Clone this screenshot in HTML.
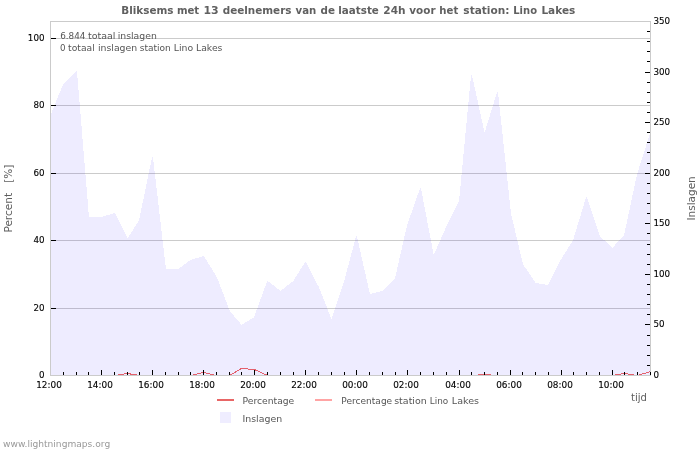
<!DOCTYPE html>
<html lang="nl"><head><meta charset="utf-8"><title>Bliksems - Lino Lakes</title>
<style>
html,body{margin:0;padding:0;background:#fff;}
body{width:700px;height:450px;overflow:hidden;}
svg{display:block;font-family:"DejaVu Sans","Liberation Sans",sans-serif;}
.g{stroke:#cbcbcb;stroke-width:1;shape-rendering:crispEdges;}
.ax{stroke:#000;stroke-width:1;shape-rendering:crispEdges;}
.bd{stroke:#cbcbcb;stroke-width:1;fill:none;shape-rendering:crispEdges;}
.tl{font-size:9.1px;fill:#000;stroke:#000;stroke-width:0.12px;}
.lg{font-size:9.4px;fill:#555;}
.at{font-size:11px;fill:#5e5e5e;}
.tt{font-size:11.3px;font-weight:bold;fill:#606060;}
</style></head><body>
<svg width="700" height="450" viewBox="0 0 700 450">
<rect width="700" height="450" fill="#fff"/>
<line class="g" x1="50" x2="650" y1="308.5" y2="308.5"/>
<line class="g" x1="50" x2="650" y1="240.5" y2="240.5"/>
<line class="g" x1="50" x2="650" y1="173.5" y2="173.5"/>
<line class="g" x1="50" x2="650" y1="105.5" y2="105.5"/>
<line class="g" x1="50" x2="650" y1="38.5" y2="38.5"/>
<g opacity="0.0706"><polygon points="50.5,375.5 50.5,116.5 63.5,84.5 76.5,71.5 88.5,217.5 101.5,217.5 114.5,213.5 127.5,239.5 139.5,220.5 152.5,157.5 165.5,269.5 178.5,269.5 190.5,260.5 203.5,256.5 216.5,277.5 229.5,311.5 241.5,325.5 254.5,317.5 267.5,281.5 280.5,291.5 293.5,281.5 305.5,262.5 318.5,287.5 331.5,320.5 344.5,281.5 356.5,236.5 369.5,294.5 382.5,291.5 395.5,278.5 407.5,225.5 420.5,188.5 433.5,256.5 446.5,227.5 459.5,201.5 471.5,75.5 484.5,134.5 497.5,92.5 510.5,213.5 522.5,264.5 535.5,283.5 548.5,285.5 561.5,259.5 573.5,240.5 586.5,197.5 599.5,236.5 612.5,248.5 624.5,235.5 637.5,174.5 650.5,133.5 650.5,375.5" fill="#2000ff" stroke="#2000ff" stroke-width="1" stroke-linejoin="round" shape-rendering="crispEdges"/></g>
<polyline points="50.5,375.5 63.5,375.5 76.5,375.5 88.5,375.5 101.5,375.5 114.5,375.5 127.5,373.5 139.5,375.5 152.5,375.5 165.5,375.5 178.5,375.5 190.5,375.5 203.5,372.5 216.5,375.5 229.5,375.5 241.5,368.5 254.5,369.5 267.5,375.5 280.5,375.5 293.5,375.5 305.5,375.5 318.5,375.5 331.5,375.5 344.5,375.5 356.5,375.5 369.5,375.5 382.5,375.5 395.5,375.5 407.5,375.5 420.5,375.5 433.5,375.5 446.5,375.5 459.5,375.5 471.5,375.5 484.5,374.5 497.5,375.5 510.5,375.5 522.5,375.5 535.5,375.5 548.5,375.5 561.5,375.5 573.5,375.5 586.5,375.5 599.5,375.5 612.5,375.5 624.5,373.5 637.5,375.5 650.5,371.5" fill="none" stroke="#e4606c" stroke-width="1" shape-rendering="crispEdges"/>
<rect class="bd" x="50.5" y="21.5" width="600" height="354"/>
<text class="tl" x="44.5" y="378" text-anchor="end" textLength="5.55" lengthAdjust="spacingAndGlyphs">0</text>
<line class="ax" x1="51" x2="56" y1="308.5" y2="308.5"/>
<text class="tl" x="44.5" y="311" text-anchor="end" textLength="11.10" lengthAdjust="spacingAndGlyphs">20</text>
<line class="ax" x1="51" x2="56" y1="240.5" y2="240.5"/>
<text class="tl" x="44.5" y="243" text-anchor="end" textLength="11.10" lengthAdjust="spacingAndGlyphs">40</text>
<line class="ax" x1="51" x2="56" y1="173.5" y2="173.5"/>
<text class="tl" x="44.5" y="176" text-anchor="end" textLength="11.10" lengthAdjust="spacingAndGlyphs">60</text>
<line class="ax" x1="51" x2="56" y1="105.5" y2="105.5"/>
<text class="tl" x="44.5" y="108" text-anchor="end" textLength="11.10" lengthAdjust="spacingAndGlyphs">80</text>
<line class="ax" x1="51" x2="56" y1="38.5" y2="38.5"/>
<text class="tl" x="44.5" y="41" text-anchor="end" textLength="16.65" lengthAdjust="spacingAndGlyphs">100</text>
<text class="tl" x="653.4" y="378" textLength="5.55" lengthAdjust="spacingAndGlyphs">0</text>
<line class="ax" x1="647" x2="650" y1="365.5" y2="365.5"/>
<line class="ax" x1="647" x2="650" y1="355.5" y2="355.5"/>
<line class="ax" x1="647" x2="650" y1="345.5" y2="345.5"/>
<line class="ax" x1="647" x2="650" y1="335.5" y2="335.5"/>
<line class="ax" x1="645" x2="650" y1="324.5" y2="324.5"/>
<text class="tl" x="653.4" y="327" textLength="11.10" lengthAdjust="spacingAndGlyphs">50</text>
<line class="ax" x1="647" x2="650" y1="314.5" y2="314.5"/>
<line class="ax" x1="647" x2="650" y1="304.5" y2="304.5"/>
<line class="ax" x1="647" x2="650" y1="294.5" y2="294.5"/>
<line class="ax" x1="647" x2="650" y1="284.5" y2="284.5"/>
<line class="ax" x1="645" x2="650" y1="274.5" y2="274.5"/>
<text class="tl" x="653.4" y="277" textLength="16.65" lengthAdjust="spacingAndGlyphs">100</text>
<line class="ax" x1="647" x2="650" y1="264.5" y2="264.5"/>
<line class="ax" x1="647" x2="650" y1="254.5" y2="254.5"/>
<line class="ax" x1="647" x2="650" y1="244.5" y2="244.5"/>
<line class="ax" x1="647" x2="650" y1="233.5" y2="233.5"/>
<line class="ax" x1="645" x2="650" y1="223.5" y2="223.5"/>
<text class="tl" x="653.4" y="226" textLength="16.65" lengthAdjust="spacingAndGlyphs">150</text>
<line class="ax" x1="647" x2="650" y1="213.5" y2="213.5"/>
<line class="ax" x1="647" x2="650" y1="203.5" y2="203.5"/>
<line class="ax" x1="647" x2="650" y1="193.5" y2="193.5"/>
<line class="ax" x1="647" x2="650" y1="183.5" y2="183.5"/>
<line class="ax" x1="645" x2="650" y1="173.5" y2="173.5"/>
<text class="tl" x="653.4" y="176" textLength="16.65" lengthAdjust="spacingAndGlyphs">200</text>
<line class="ax" x1="647" x2="650" y1="163.5" y2="163.5"/>
<line class="ax" x1="647" x2="650" y1="152.5" y2="152.5"/>
<line class="ax" x1="647" x2="650" y1="142.5" y2="142.5"/>
<line class="ax" x1="647" x2="650" y1="132.5" y2="132.5"/>
<line class="ax" x1="645" x2="650" y1="122.5" y2="122.5"/>
<text class="tl" x="653.4" y="125" textLength="16.65" lengthAdjust="spacingAndGlyphs">250</text>
<line class="ax" x1="647" x2="650" y1="112.5" y2="112.5"/>
<line class="ax" x1="647" x2="650" y1="102.5" y2="102.5"/>
<line class="ax" x1="647" x2="650" y1="92.5" y2="92.5"/>
<line class="ax" x1="647" x2="650" y1="82.5" y2="82.5"/>
<line class="ax" x1="645" x2="650" y1="72.5" y2="72.5"/>
<text class="tl" x="653.4" y="75" textLength="16.65" lengthAdjust="spacingAndGlyphs">300</text>
<line class="ax" x1="647" x2="650" y1="61.5" y2="61.5"/>
<line class="ax" x1="647" x2="650" y1="51.5" y2="51.5"/>
<line class="ax" x1="647" x2="650" y1="41.5" y2="41.5"/>
<line class="ax" x1="647" x2="650" y1="31.5" y2="31.5"/>
<text class="tl" x="653.4" y="24" textLength="16.65" lengthAdjust="spacingAndGlyphs">350</text>
<line class="ax" x1="63.5" x2="63.5" y1="372" y2="375"/>
<line class="ax" x1="76.5" x2="76.5" y1="372" y2="375"/>
<line class="ax" x1="88.5" x2="88.5" y1="372" y2="375"/>
<line class="ax" x1="101.5" x2="101.5" y1="370" y2="375"/>
<line class="ax" x1="114.5" x2="114.5" y1="372" y2="375"/>
<line class="ax" x1="127.5" x2="127.5" y1="372" y2="375"/>
<line class="ax" x1="139.5" x2="139.5" y1="372" y2="375"/>
<line class="ax" x1="152.5" x2="152.5" y1="370" y2="375"/>
<line class="ax" x1="165.5" x2="165.5" y1="372" y2="375"/>
<line class="ax" x1="178.5" x2="178.5" y1="372" y2="375"/>
<line class="ax" x1="190.5" x2="190.5" y1="372" y2="375"/>
<line class="ax" x1="203.5" x2="203.5" y1="370" y2="375"/>
<line class="ax" x1="216.5" x2="216.5" y1="372" y2="375"/>
<line class="ax" x1="229.5" x2="229.5" y1="372" y2="375"/>
<line class="ax" x1="241.5" x2="241.5" y1="372" y2="375"/>
<line class="ax" x1="254.5" x2="254.5" y1="370" y2="375"/>
<line class="ax" x1="267.5" x2="267.5" y1="372" y2="375"/>
<line class="ax" x1="280.5" x2="280.5" y1="372" y2="375"/>
<line class="ax" x1="293.5" x2="293.5" y1="372" y2="375"/>
<line class="ax" x1="305.5" x2="305.5" y1="370" y2="375"/>
<line class="ax" x1="318.5" x2="318.5" y1="372" y2="375"/>
<line class="ax" x1="331.5" x2="331.5" y1="372" y2="375"/>
<line class="ax" x1="344.5" x2="344.5" y1="372" y2="375"/>
<line class="ax" x1="356.5" x2="356.5" y1="370" y2="375"/>
<line class="ax" x1="369.5" x2="369.5" y1="372" y2="375"/>
<line class="ax" x1="382.5" x2="382.5" y1="372" y2="375"/>
<line class="ax" x1="395.5" x2="395.5" y1="372" y2="375"/>
<line class="ax" x1="407.5" x2="407.5" y1="370" y2="375"/>
<line class="ax" x1="420.5" x2="420.5" y1="372" y2="375"/>
<line class="ax" x1="433.5" x2="433.5" y1="372" y2="375"/>
<line class="ax" x1="446.5" x2="446.5" y1="372" y2="375"/>
<line class="ax" x1="459.5" x2="459.5" y1="370" y2="375"/>
<line class="ax" x1="471.5" x2="471.5" y1="372" y2="375"/>
<line class="ax" x1="484.5" x2="484.5" y1="372" y2="375"/>
<line class="ax" x1="497.5" x2="497.5" y1="372" y2="375"/>
<line class="ax" x1="510.5" x2="510.5" y1="370" y2="375"/>
<line class="ax" x1="522.5" x2="522.5" y1="372" y2="375"/>
<line class="ax" x1="535.5" x2="535.5" y1="372" y2="375"/>
<line class="ax" x1="548.5" x2="548.5" y1="372" y2="375"/>
<line class="ax" x1="561.5" x2="561.5" y1="370" y2="375"/>
<line class="ax" x1="573.5" x2="573.5" y1="372" y2="375"/>
<line class="ax" x1="586.5" x2="586.5" y1="372" y2="375"/>
<line class="ax" x1="599.5" x2="599.5" y1="372" y2="375"/>
<line class="ax" x1="612.5" x2="612.5" y1="370" y2="375"/>
<line class="ax" x1="624.5" x2="624.5" y1="372" y2="375"/>
<line class="ax" x1="637.5" x2="637.5" y1="372" y2="375"/>
<line class="ax" x1="650.5" x2="650.5" y1="372" y2="375"/>
<text class="tl" x="49" y="388" text-anchor="middle" textLength="25.6" lengthAdjust="spacingAndGlyphs">12:00</text>
<text class="tl" x="100" y="388" text-anchor="middle" textLength="25.6" lengthAdjust="spacingAndGlyphs">14:00</text>
<text class="tl" x="151" y="388" text-anchor="middle" textLength="25.6" lengthAdjust="spacingAndGlyphs">16:00</text>
<text class="tl" x="202" y="388" text-anchor="middle" textLength="25.6" lengthAdjust="spacingAndGlyphs">18:00</text>
<text class="tl" x="253" y="388" text-anchor="middle" textLength="25.6" lengthAdjust="spacingAndGlyphs">20:00</text>
<text class="tl" x="304" y="388" text-anchor="middle" textLength="25.6" lengthAdjust="spacingAndGlyphs">22:00</text>
<text class="tl" x="355" y="388" text-anchor="middle" textLength="25.6" lengthAdjust="spacingAndGlyphs">00:00</text>
<text class="tl" x="406" y="388" text-anchor="middle" textLength="25.6" lengthAdjust="spacingAndGlyphs">02:00</text>
<text class="tl" x="458" y="388" text-anchor="middle" textLength="25.6" lengthAdjust="spacingAndGlyphs">04:00</text>
<text class="tl" x="509" y="388" text-anchor="middle" textLength="25.6" lengthAdjust="spacingAndGlyphs">06:00</text>
<text class="tl" x="560" y="388" text-anchor="middle" textLength="25.6" lengthAdjust="spacingAndGlyphs">08:00</text>
<text class="tl" x="611" y="388" text-anchor="middle" textLength="25.6" lengthAdjust="spacingAndGlyphs">10:00</text>
<text class="tt" y="13.9"><tspan x="121.23" textLength="52.28" lengthAdjust="spacingAndGlyphs">Bliksems</tspan> <tspan x="176.95" textLength="22.29" lengthAdjust="spacingAndGlyphs">met</tspan> <tspan x="203.41" textLength="15.2" lengthAdjust="spacingAndGlyphs">13</tspan> <tspan x="222.69" textLength="68.81" lengthAdjust="spacingAndGlyphs">deelnemers</tspan> <tspan x="295.52" textLength="20.74" lengthAdjust="spacingAndGlyphs">van</tspan> <tspan x="320.49" textLength="14.42" lengthAdjust="spacingAndGlyphs">de</tspan> <tspan x="338.34" textLength="40.53" lengthAdjust="spacingAndGlyphs">laatste</tspan> <tspan x="383.33" textLength="22.25" lengthAdjust="spacingAndGlyphs">24h</tspan> <tspan x="409.32" textLength="26.22" lengthAdjust="spacingAndGlyphs">voor</tspan> <tspan x="439.35" textLength="18.91" lengthAdjust="spacingAndGlyphs">het</tspan> <tspan x="463.37" textLength="46.12" lengthAdjust="spacingAndGlyphs">station:</tspan> <tspan x="513.27" textLength="23.72" lengthAdjust="spacingAndGlyphs">Lino</tspan> <tspan x="541.42" textLength="33.84" lengthAdjust="spacingAndGlyphs">Lakes</tspan></text>
<text class="lg" y="39"><tspan x="60.21" textLength="25.23" lengthAdjust="spacingAndGlyphs">6.844</tspan> <tspan x="87.95" textLength="27.5" lengthAdjust="spacingAndGlyphs">totaal</tspan> <tspan x="117.73" textLength="39.09" lengthAdjust="spacingAndGlyphs">inslagen</tspan></text>
<text class="lg" y="51"><tspan x="59.91" textLength="5.55" lengthAdjust="spacingAndGlyphs">0</tspan> <tspan x="68.05" textLength="26.66" lengthAdjust="spacingAndGlyphs">totaal</tspan> <tspan x="97.93" textLength="39.3" lengthAdjust="spacingAndGlyphs">inslagen</tspan> <tspan x="139.72" textLength="31.12" lengthAdjust="spacingAndGlyphs">station</tspan> <tspan x="173.83" textLength="19.38" lengthAdjust="spacingAndGlyphs">Lino</tspan> <tspan x="196.03" textLength="26.43" lengthAdjust="spacingAndGlyphs">Lakes</tspan></text>
<text class="at" transform="translate(12,198.6) rotate(-90)" text-anchor="middle" textLength="68" lengthAdjust="spacingAndGlyphs" xml:space="preserve">Percent   [%]</text>
<text class="at" transform="translate(695,198.4) rotate(-90)" text-anchor="middle" textLength="44.2" lengthAdjust="spacingAndGlyphs">Inslagen</text>
<text class="at" x="647" y="401" text-anchor="end" textLength="16" lengthAdjust="spacingAndGlyphs">tijd</text>
<rect x="217" y="399" width="17" height="2" fill="#e86666"/>
<text class="lg" y="404"><tspan x="242.54" textLength="51.75" lengthAdjust="spacingAndGlyphs">Percentage</tspan></text>
<rect x="315" y="399" width="17" height="2" fill="#ffa4a4"/>
<text class="lg" y="404"><tspan x="341.36" textLength="50.82" lengthAdjust="spacingAndGlyphs">Percentage</tspan> <tspan x="394.2" textLength="32.58" lengthAdjust="spacingAndGlyphs">station</tspan> <tspan x="429.77" textLength="18.41" lengthAdjust="spacingAndGlyphs">Lino</tspan> <tspan x="451.81" textLength="27.27" lengthAdjust="spacingAndGlyphs">Lakes</tspan></text>
<rect x="220" y="412" width="11" height="11" fill="#efedff"/>
<text class="lg" y="422"><tspan x="242.52" textLength="39.64" lengthAdjust="spacingAndGlyphs">Inslagen</tspan></text>
<text x="3" y="447" font-size="9.1px" fill="#999" textLength="107.2" lengthAdjust="spacingAndGlyphs">www.lightningmaps.org</text>
</svg>
</body></html>
